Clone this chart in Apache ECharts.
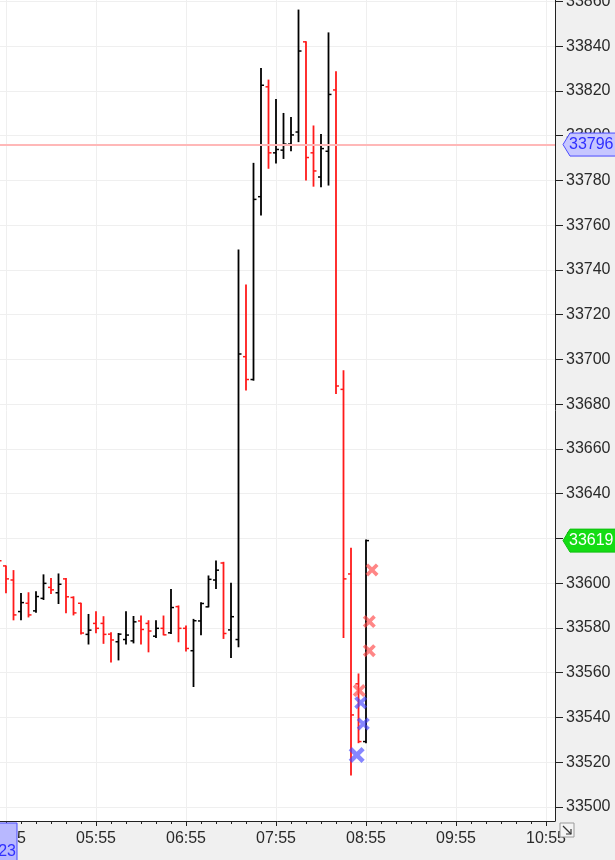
<!DOCTYPE html>
<html>
<head>
<meta charset="utf-8">
<script src="https://cdn.jsdelivr.net/npm/echarts@6/dist/echarts.min.js"></script>
<style>
html,body{margin:0;padding:0;background:#f0f0f0;}
#c{width:615px;height:860px;}
</style>
</head>
<body>
<div id="c"></div>
<script>
// 5-minute OHLC bars
const times = ['04:50','04:55','05:00','05:05','05:10','05:15','05:20','05:25','05:30','05:35','05:40','05:45','05:50','05:55','06:00','06:05','06:10','06:15','06:20','06:25','06:30','06:35','06:40','06:45','06:50','06:55','07:00','07:05','07:10','07:15','07:20','07:25','07:30','07:35','07:40','07:45','07:50','07:55','08:00','08:05','08:10','08:15','08:20','08:25','08:30','08:35','08:40','08:45','08:50','08:55'];
const opens = [33614,33607.7,33601.4,33587.3,33591.0,33587.6,33593.2,33598.1,33595.7,33601.9,33593.6,33591.0,33577.1,33582.0,33582.0,33577.2,33573.8,33574.8,33574.2,33583.1,33582.0,33576.3,33579.8,33577.8,33589.5,33579.8,33569.8,33583.1,33589.4,33601.4,33609.0,33579.1,33574.8,33701.2,33691.0,33772.7,33821.8,33792.3,33793.5,33796.2,33801.6,33841.9,33792.3,33781.5,33793.0,33820.4,33686.6,33604.1,33555.0,33529.2];
const highs = [33616,33607.7,33605.6,33595.4,33595.7,33596.1,33603.7,33602.1,33604.1,33602.1,33593.9,33591.0,33586.0,33587.2,33585.0,33577.8,33577.5,33587.2,33585.1,33585.3,33583.2,33583.2,33585.3,33597.2,33589.8,33580.9,33583.8,33591.2,33603.2,33609.9,33609.3,33599.9,33748.9,33733.2,33787.6,33830.0,33824.8,33816.1,33809.9,33808.1,33856.1,33841.9,33804.3,33800.5,33845.9,33828.5,33694.9,33615.6,33559.4,33619.3];
const lows = [33600,33595.7,33583.6,33583.6,33584.9,33587.0,33592.7,33595.4,33590.9,33586.8,33585.8,33577.3,33572.8,33577.8,33573.1,33564.8,33565.7,33572.8,33573.3,33572.8,33569.3,33575.7,33576.9,33577.5,33573.8,33569.7,33553.8,33576.9,33589.4,33597.6,33575.3,33566.8,33571.6,33686.3,33690.7,33764.5,33785.4,33787.8,33789.8,33793.2,33797.3,33780.2,33777.4,33777.1,33777.9,33684.8,33575.7,33514.3,33528.7,33528.7];
const closes = [33610,33601.9,33585.8,33591.3,33585.8,33594.0,33599.9,33597.0,33599.5,33593.9,33586.7,33577.7,33579.0,33579.8,33577.1,33574.6,33577.2,33576.8,33582.7,33579.3,33578.6,33579.8,33576.9,33589.1,33579.8,33570.8,33583.2,33590.9,33601.7,33605.8,33577.5,33585.0,33702.4,33691.0,33771.5,33822.5,33792.3,33793.8,33796.2,33800.3,33837.8,33790.2,33784.2,33794.2,33818.4,33688.1,33601.9,33541.1,33529.2,33619.0];

// trade markers
const sellTimes = ['08:59:00','08:57:12','08:57:12','08:50:30'];
const sellPrices = [33605.9,33582.8,33569.8,33552.0];
const buyTimes = ['08:51:30','08:53:12','08:48:48'];
const buyPrices = [33546.6,33537.1,33523.2];

// axis labels
const xTickLabels = ['04:55','05:55','06:55','07:55','08:55','09:55','10:55'];
const yTickLabels = [33500,33520,33540,33560,33580,33600,33620,33640,33660,33680,33700,33720,33740,33760,33780,33800,33820,33840,33860];
const lastPrice = 33619;
const linePrice = 33796;
const cursorLabel = '23';

function toMin(s){const p=s.split(':').map(Number);return p[0]*60+p[1]+(p[2]||0)/60;}
function fmt(v){const h=Math.floor(v/60),m=Math.round(v-h*60);return String(h).padStart(2,'0')+':'+String(m).padStart(2,'0');}

const majorTicks = xTickLabels.map(toMin);
const minorTicks = [];
for(let t=majorTicks[0]-60;t<=majorTicks[majorTicks.length-1]+60;t+=10) minorTicks.push(t);

const ohlc = times.map((t,i)=>[toMin(t),opens[i],highs[i],lows[i],closes[i]]);
const sells = sellTimes.map((t,i)=>[toMin(t),sellPrices[i]]);
const buys = buyTimes.map((t,i)=>[toMin(t),buyPrices[i]]);

const xMin = 291, xMax = 661, yMin = 33493.7, yMax = 33860.6;
const FONT = '"Liberation Sans", Arial, sans-serif';
const XPATH = 'path://M0,2 L2,0 L5,3 L8,0 L10,2 L7,5 L10,8 L8,10 L5,7 L2,10 L0,8 L3,5 Z';

const chart = echarts.init(document.getElementById('c'), null, {renderer:'canvas'});
chart.setOption({
  backgroundColor:'#f0f0f0',
  animation:false,
  grid:{left:0,right:60,top:0,bottom:39,show:true,backgroundColor:'#ffffff',borderWidth:0,containLabel:false,outerBoundsMode:'none'},
  xAxis:[{
    type:'value',min:xMin,max:xMax,position:'bottom',
    axisLine:{show:true,onZero:false,lineStyle:{color:'#222',width:1}},
    axisTick:{show:true,length:5,customValues:majorTicks,lineStyle:{color:'#222'}},
    axisLabel:{show:true,customValues:majorTicks,formatter:fmt,fontSize:16,color:'#2a2a2a',margin:10,fontFamily:FONT,hideOverlap:false},
    splitLine:{show:true,lineStyle:{color:'#efefef',width:1}}
  },{
    type:'value',min:xMin,max:xMax,position:'bottom',
    axisLine:{show:false,onZero:false},
    axisTick:{show:true,length:3,customValues:minorTicks,lineStyle:{color:'#222'}},
    axisLabel:{show:false},
    splitLine:{show:false}
  }],
  yAxis:{
    type:'value',min:yMin,max:yMax,position:'right',
    axisLine:{show:true,lineStyle:{color:'#222',width:1}},
    axisTick:{show:true,length:8,customValues:yTickLabels,lineStyle:{color:'#222'}},
    axisLabel:{show:true,customValues:yTickLabels,formatter:v=>String(Math.round(v)),fontSize:16,color:'#2a2a2a',margin:11,fontFamily:FONT},
    splitLine:{show:true,lineStyle:{color:'#efefef',width:1}}
  },
  series:[{
    type:'custom',
    clip:true,
    data:ohlc,
    encode:{x:0,y:[1,2,3,4]},
    renderItem:function(params,api){
      const t=api.value(0),o=api.value(1),h=api.value(2),l=api.value(3),c=api.value(4);
      const pH=api.coord([t,h]),pL=api.coord([t,l]),pO=api.coord([t,o]),pC=api.coord([t,c]);
      const color = c<o ? '#ff1a1a' : '#000000';
      const x=pH[0];
      const st={stroke:color,lineWidth:1.8};
      return {type:'group',children:[
        {type:'line',shape:{x1:x,y1:pH[1]-0.5,x2:x,y2:pL[1]+0.5},style:st},
        {type:'line',shape:{x1:x-3,y1:pO[1],x2:x,y2:pO[1]},style:{stroke:color,lineWidth:1.5}},
        {type:'line',shape:{x1:x,y1:pC[1],x2:x+3,y2:pC[1]},style:{stroke:color,lineWidth:1.5}}
      ]};
    }
  },{
    type:'scatter',
    data:sells,
    symbol:XPATH,symbolSize:13,
    itemStyle:{color:'rgba(255,70,70,0.82)'},
    markLine:{silent:true,symbol:'none',label:{show:false},
      lineStyle:{color:'#ffb8b8',width:2,type:'solid'},
      data:[{yAxis:linePrice}]},
    z:5
  },{
    type:'scatter',
    data:buys,
    symbol:XPATH,symbolSize:function(v,p){return p.dataIndex===2?16:13;},
    itemStyle:{color:'rgba(70,70,255,0.82)'},
    z:5
  }]
});

function tag(price,fill,stroke,textColor){
  const y=chart.convertToPixel({yAxisIndex:0},price);
  const x=chart.convertToPixel({xAxisIndex:0},xMax);
  const h=11.5;
  return [{
    type:'polygon',z:100,
    shape:{points:[[x+8,y],[x+15,y-h],[x+62,y-h],[x+62,y+h],[x+15,y+h]]},
    style:{fill:fill,stroke:stroke,lineWidth:1}
  },{
    type:'text',z:101,
    style:{text:String(price),x:x+14,y:y,textVerticalAlign:'middle',verticalAlign:'middle',fill:textColor,font:'16px '+FONT}
  }];
}
const gx = chart.convertToPixel({xAxisIndex:0},xMax);
const gy = chart.convertToPixel({yAxisIndex:0},yMin);
chart.setOption({graphic:[].concat(
  tag(linePrice,'#c6c6ff','#4b4bff','#2f2fff'),
  tag(lastPrice,'#14dc14','#10c010','#ffffff'),
  [{type:'rect',z:100,shape:{x:-2,y:gy+2,width:19,height:45},style:{fill:'#b8b8ff',stroke:'#4b4bff',lineWidth:1}},
   {type:'text',z:101,style:{text:cursorLabel,x:16,y:gy+31,align:'right',textAlign:'right',verticalAlign:'middle',textVerticalAlign:'middle',fill:'#3030ff',font:'16px '+FONT}},
   {type:'rect',z:100,shape:{x:gx+5,y:gy+2,width:14,height:14},style:{fill:'#f4f4f4',stroke:'#9a9a9a',lineWidth:1}},
   {type:'polyline',z:101,shape:{points:[[gx+8,gy+5],[gx+16,gy+13]]},style:{stroke:'#333',lineWidth:1.2,fill:null}},
   {type:'polyline',z:101,shape:{points:[[gx+16,gy+8],[gx+16,gy+13],[gx+11,gy+13]]},style:{stroke:'#333',lineWidth:1.2,fill:null}}
  ]
)});
</script>
</body>
</html>
